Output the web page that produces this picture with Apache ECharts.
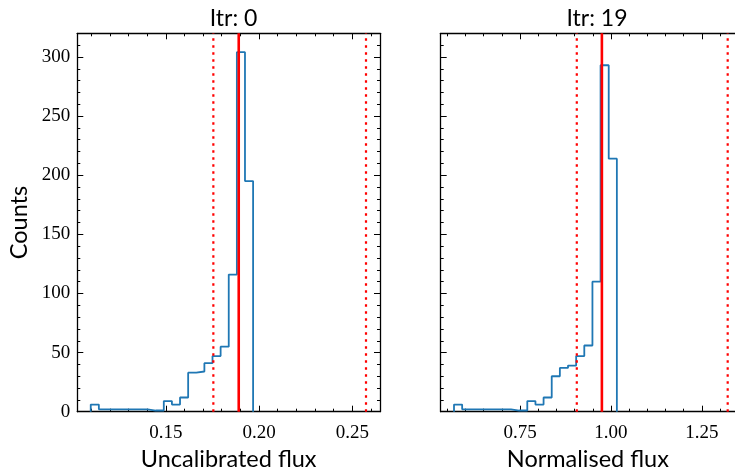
<!DOCTYPE html>
<html>
<head>
<meta charset="utf-8">
<script src="https://cdn.jsdelivr.net/npm/echarts@6/dist/echarts.min.js"></script>
<style>html,body{margin:0;padding:0;background:#fff}#c{width:735px;height:468px}</style>
</head>
<body>
<div id="c"></div>
<script>
// ---- data ----
const titles = ['Itr: 0', 'Itr: 19'];
const xLabels = ['Uncalibrated flux', 'Normalised flux'];
const yLabel = 'Counts';
const binRangeLeft = [0.1098, 0.1968];
const binRangeRight = [0.5683, 1.0162];
const countsLeft = [6, 2, 2, 2, 2, 2, 2, 1, 1, 9, 6, 12, 33, 34, 41, 47, 55, 116, 304, 195];
const countsRight = [6, 2, 2, 2, 2, 2, 2, 1, 1, 9, 6, 12, 30, 37, 39, 47, 56, 110, 293, 214];
const vlinesLeft = [0.1755, 0.1891, 0.2573];   // lower bound, centre, upper bound
const vlinesRight = [0.906, 0.975, 1.321];
const xRangeLeft = [0.1026, 0.2648];
const xRangeRight = [0.5317, 1.3411];   // visible part (panel is cut by the image edge)
const yRange = [0, 320];
const xMajorLeft = [0.15, 0.20, 0.25];
const xMinorLeft = [0.11, 0.12, 0.13, 0.14, 0.16, 0.17, 0.18, 0.19, 0.21, 0.22, 0.23, 0.24, 0.26];
const xMajorRight = [0.75, 1.00, 1.25];
const xMinorRight = [0.55, 0.60, 0.65, 0.70, 0.80, 0.85, 0.90, 0.95, 1.05, 1.10, 1.15, 1.20, 1.30];
const yMajor = [0, 50, 100, 150, 200, 250, 300];
const yMinor = [10, 20, 30, 40, 60, 70, 80, 90, 110, 120, 130, 140, 160, 170, 180, 190, 210, 220, 230, 240, 260, 270, 280, 290, 310];

// ---- build ----
function stepData(range, counts) {
  const n = counts.length, w = (range[1] - range[0]) / n;
  const d = [[range[0], 0]];
  for (let i = 0; i < n; i++) d.push([range[0] + i * w, counts[i]]);
  d.push([range[1], 0]);
  return d;
}
const serif = 'Liberation Serif';
const sans = 'Lato';
const grids = [
  {left: 77.3, top: 33.3, width: 302.7, height: 378.4, outerBoundsMode: 'none', containLabel: false},
  {left: 440.7, top: 33.3, width: 294.3, height: 378.4, outerBoundsMode: 'none', containLabel: false}
];
const titleCenters = [228.6, 592];
const xAxes = [], yAxes = [];
function addX(g, range, vals, pos, major, labels, name) {
  xAxes.push({
    type: 'value', gridIndex: g, min: range[0], max: range[1], position: pos,
    name: name || '', nameLocation: 'middle', nameGap: 29,
    nameTextStyle: {fontFamily: sans, fontSize: 23.5, color: '#000'},
    axisLine: {show: major, onZero: false, lineStyle: {color: '#000', width: 1.3}},
    axisTick: {show: true, inside: true, length: major ? 6 : 3, customValues: vals, lineStyle: {color: '#000', width: 1}},
    axisLabel: {show: labels, customValues: vals, margin: 12, fontFamily: serif, fontSize: 19, color: '#000',
      formatter: v => v.toFixed(2)},
    splitLine: {show: false}
  });
}
function addY(g, vals, pos, major, labels, name, visible) {
  yAxes.push({
    type: 'value', gridIndex: g, min: yRange[0], max: yRange[1], position: pos, show: visible !== false,
    name: name || '', nameLocation: 'middle', nameGap: 46,
    nameTextStyle: {fontFamily: sans, fontSize: 23.5, color: '#000'},
    axisLine: {show: major, onZero: false, lineStyle: {color: '#000', width: 1.3}},
    axisTick: {show: true, inside: true, length: major ? 6 : 3, customValues: vals, lineStyle: {color: '#000', width: 1}},
    axisLabel: {show: labels, customValues: vals, margin: 7, fontFamily: serif, fontSize: 19, color: '#000'},
    splitLine: {show: false}
  });
}
const xr = [xRangeLeft, xRangeRight], xM = [xMajorLeft, xMajorRight], xm = [xMinorLeft, xMinorRight];
for (let g = 0; g < 2; g++) {
  addX(g, xr[g], xM[g], 'bottom', true, true, xLabels[g]);
  addX(g, xr[g], xm[g], 'bottom', false, false);
  addX(g, xr[g], xM[g], 'top', true, false);
  addX(g, xr[g], xm[g], 'top', false, false);
  addY(g, yMajor, 'left', true, g === 0, g === 0 ? yLabel : '');
  addY(g, yMinor, 'left', false, false);
  addY(g, yMajor, 'right', true, false, '', g === 0);
  addY(g, yMinor, 'right', false, false, '', g === 0);
}
const hists = [[binRangeLeft, countsLeft, vlinesLeft], [binRangeRight, countsRight, vlinesRight]];
const series = [];
hists.forEach((h, g) => {
  series.push({
    type: 'line', xAxisIndex: g * 4, yAxisIndex: g * 4, step: 'end', symbol: 'none', z: 2,
    data: stepData(h[0], h[1]),
    lineStyle: {color: '#1f77b4', width: 1.8}
  });
  h[2].forEach((x, k) => {
    const dotted = k !== 1;
    series.push({
      type: 'line', xAxisIndex: g * 4, yAxisIndex: g * 4, symbol: 'none', z: 3, silent: true,
      data: [[x, yRange[0]], [x, yRange[1]]],
      lineStyle: {color: '#ff0000', width: dotted ? 2.2 : 2.6, type: dotted ? [2.5, 4.5] : 'solid'}
    });
  });
});
const chart = echarts.init(document.getElementById('c'), null, {renderer: 'canvas'});
chart.setOption({
  animation: false,
  title: titles.map((t, g) => ({
    text: t, left: titleCenters[g], top: 2, textAlign: 'center',
    textStyle: {fontFamily: sans, fontSize: 23, fontWeight: 'normal', color: '#000'}
  })),
  grid: grids,
  xAxis: xAxes,
  yAxis: yAxes,
  series: series
});
</script>
</body>
</html>
